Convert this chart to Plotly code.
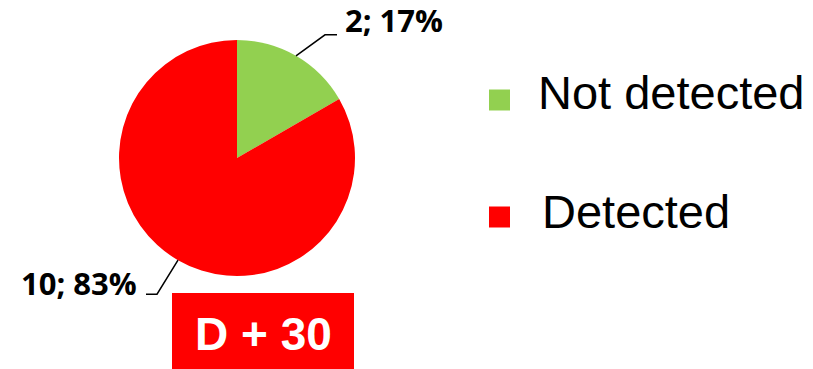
import math
import plotly.graph_objects as go

# Detection outcome at D + 30
labels = ["Not detected", "Detected"]
counts = [2, 10]
colors = ["#92D050", "#FF0000"]
panel_title = "D + 30"

W, H = 813, 369
CX, CY, R = 237, 158, 118  # pie centre and radius in pixels (top-left origin)


def px(x):
    return x / W


def py(y):
    return 1 - y / H


total = sum(counts)

fig = go.Figure(
    go.Pie(
        labels=labels,
        values=counts,
        marker=dict(colors=colors, line=dict(width=0)),
        sort=False,
        direction="clockwise",
        rotation=0,
        textinfo="none",
        hoverinfo="label+value+percent",
        showlegend=False,
        domain=dict(x=[px(CX - R), px(CX + R)], y=[py(CY + R), py(CY - R)]),
    )
)

shapes = []
annotations = []

# Outside data labels with elbow leader lines, placed from each slice's mid-angle
elbows = [((29, -21), (12, 0), "left", -15), ((-21, 34), (-11, 0), "right", -11)]
cum = 0
for v, (d1, d2, anchor, dy) in zip(counts, elbows):
    mid = (cum + v / 2) / total * 2 * math.pi
    cum += v
    sx = CX + R * math.sin(mid)
    sy = CY - R * math.cos(mid)
    ex, ey = sx + d1[0], sy + d1[1]
    fx, fy = ex + d2[0], ey + d2[1]
    shapes.append(
        dict(
            type="path",
            xref="paper",
            yref="paper",
            path=f"M {px(sx)},{py(sy)} L {px(ex)},{py(ey)} L {px(fx)},{py(fy)}",
            line=dict(color="black", width=1.5),
        )
    )
    pct = round(100 * v / total)
    annotations.append(
        dict(
            text=f"{v}; {pct}%",
            xref="paper",
            yref="paper",
            x=px(fx + (6 if anchor == "left" else -7)),
            y=py(fy + dy),
            xanchor=anchor,
            yanchor="middle",
            showarrow=False,
            font=dict(family="Open Sans", size=31, color="black", weight="bold"),
        )
    )

# Legend drawn as large squares with labels
legend_rows = [(100, 93), (217, 211)]
for name, col, (sq_y, txt_y) in zip(labels, colors, legend_rows):
    shapes.append(
        dict(
            type="rect",
            xref="paper",
            yref="paper",
            x0=px(489),
            x1=px(510),
            y0=py(sq_y + 10.5),
            y1=py(sq_y - 10.5),
            fillcolor=col,
            line=dict(width=0),
        )
    )
    annotations.append(
        dict(
            text=name,
            xref="paper",
            yref="paper",
            x=px(536 if name == labels[0] else 540),
            y=py(txt_y),
            xanchor="left",
            yanchor="middle",
            showarrow=False,
            font=dict(family="Liberation Sans", size=47, color="black"),
        )
    )

# Title badge under the pie
shapes.append(
    dict(
        type="rect",
        xref="paper",
        yref="paper",
        x0=px(172),
        x1=px(354),
        y0=py(369),
        y1=py(293),
        fillcolor="#FF0000",
        line=dict(width=0),
    )
)
annotations.append(
    dict(
        text=panel_title,
        xref="paper",
        yref="paper",
        x=px(263),
        y=py(334),
        xanchor="center",
        yanchor="middle",
        showarrow=False,
        font=dict(family="Liberation Sans", size=46, color="white", weight="bold"),
    )
)

fig.update_layout(
    width=W,
    height=H,
    margin=dict(l=0, r=0, t=0, b=0),
    paper_bgcolor="white",
    plot_bgcolor="white",
    shapes=shapes,
    annotations=annotations,
)

fig.write_html("out.html")
